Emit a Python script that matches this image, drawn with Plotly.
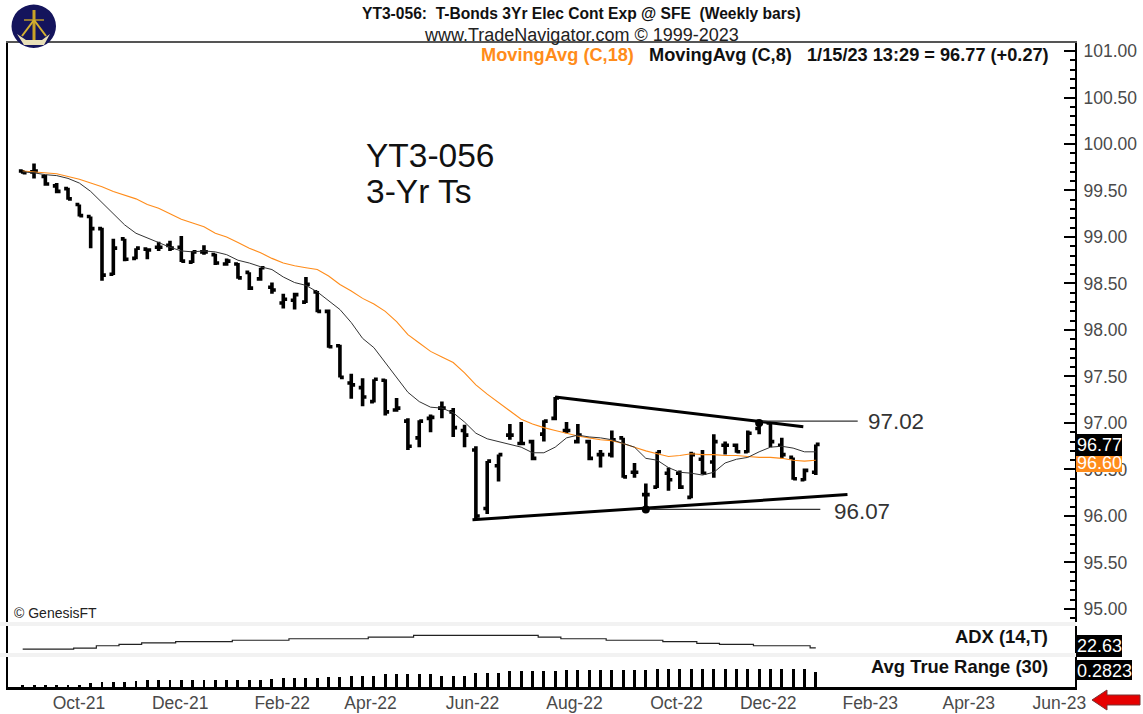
import plotly.graph_objects as go

# ---------- data ----------
bar_index = list(range(71))
highs = [99.72,99.79,99.67,99.58,99.53,99.35,99.22,99.10,98.98,98.98,98.88,98.88,98.95,98.96,99.01,98.85,98.91,98.82,98.77,98.72,
         98.62,98.67,98.51,98.39,98.40,98.57,98.42,98.22,97.84,97.53,97.48,97.47,97.47,97.27,97.05,97.03,97.09,97.23,97.16,96.98,
         96.75,96.59,96.66,96.99,97.01,96.82,97.03,97.28,97.01,96.99,96.82,96.71,96.92,96.84,96.57,96.35,96.69,96.52,96.49,96.69,
         96.71,96.88,96.80,96.78,96.92,97.03,97.00,96.84,96.63,96.51,96.77]
lows = [99.68,99.63,99.55,99.47,99.40,99.22,98.88,98.53,98.59,98.74,98.76,98.76,98.85,98.85,98.73,98.72,98.81,98.70,98.69,98.55,
        98.43,98.53,98.39,98.23,98.22,98.29,98.19,97.81,97.49,97.26,97.18,97.22,97.08,97.12,96.71,96.74,96.90,97.05,96.85,96.74,
        95.96,96.02,96.37,96.82,96.77,96.60,96.80,97.03,96.89,96.78,96.60,96.52,96.63,96.41,96.41,96.07,96.30,96.27,96.29,96.19,
        96.45,96.41,96.66,96.68,96.68,96.88,96.74,96.62,96.39,96.38,96.44]
opens = [99.71,99.70,99.65,99.55,99.52,99.35,99.22,99.09,98.60,98.98,98.77,98.87,98.89,98.91,98.89,98.73,98.84,98.81,98.71,98.71,
         98.62,98.55,98.46,98.29,98.32,98.30,98.41,98.20,97.83,97.43,97.38,97.23,97.46,97.14,97.02,96.84,97.05,97.16,97.12,96.92,
         96.71,96.08,96.54,96.87,96.78,96.80,96.88,97.05,96.92,96.80,96.80,96.66,96.66,96.84,96.47,96.23,96.31,96.46,96.46,96.20,
         96.61,96.58,96.76,96.76,96.69,96.94,97.00,96.76,96.63,96.39,96.47]
closes = [99.69,99.71,99.57,99.49,99.41,99.23,99.09,98.59,98.88,98.76,98.88,98.86,98.89,98.88,98.74,98.84,98.84,98.72,98.74,98.56,
          98.45,98.67,98.43,98.33,98.38,98.49,98.20,97.82,97.49,97.41,97.28,97.47,97.12,97.16,96.75,97.02,97.06,97.16,96.95,96.87,
          96.00,96.59,96.66,96.87,96.78,96.62,97.02,97.27,96.92,96.87,96.62,96.66,96.82,96.42,96.47,96.23,96.69,96.39,96.31,96.66,
          96.46,96.80,96.76,96.69,96.89,97.00,96.80,96.66,96.40,96.49,96.77]
ma18 = [99.71,99.70,99.69,99.68,99.65,99.62,99.58,99.54,99.49,99.45,99.41,99.35,99.31,99.25,99.19,99.15,99.11,99.04,99.00,98.94,
        98.88,98.83,98.77,98.72,98.69,98.67,98.65,98.58,98.49,98.42,98.34,98.28,98.20,98.09,97.95,97.86,97.77,97.71,97.65,97.54,
        97.41,97.31,97.22,97.12,97.04,96.99,96.95,96.92,96.89,96.86,96.84,96.82,96.81,96.78,96.74,96.70,96.67,96.64,96.65,96.67,
        96.66,96.66,96.65,96.65,96.64,96.63,96.63,96.62,96.60,96.59,96.60]
ma8 = [99.70,99.69,99.67,99.66,99.63,99.58,99.49,99.37,99.26,99.13,99.04,98.99,98.94,98.89,98.85,98.84,98.85,98.84,98.81,98.75,
       98.72,98.68,98.65,98.57,98.51,98.48,98.41,98.32,98.22,98.08,97.91,97.81,97.65,97.48,97.33,97.23,97.17,97.16,97.11,97.01,
       96.89,96.83,96.80,96.77,96.74,96.68,96.68,96.74,96.84,96.87,96.85,96.84,96.82,96.78,96.74,96.62,96.60,96.52,96.47,96.46,
       96.44,96.47,96.57,96.61,96.63,96.69,96.74,96.75,96.73,96.69,96.69]
adx = [22.11]*5 + [22.51]*2 + [23.43]*2 + [23.95]*2 + [24.51]*3 + [25.03]*5 + [25.55]*5 + [26.11]*7 + [26.75]*4 + [27.43]*11 \
      + [26.75]*2 + [26.11]*4 + [25.55]*5 + [25.03]*3 + [24.35]*2 + [23.95]*3 + [23.43]*5 + [22.63]
atr = [0.04]*6 + [0.07,0.09,0.10,0.10,0.11] + [0.13]*11 + [0.15]*1 + [0.17]*4 + [0.19]*2 + [0.21]*3 + [0.24]*5 + [0.21]*3 \
      + [0.27]*3 + [0.295]*5 + [0.325]*8 + [0.34]*14 + [0.2823]
assert all(len(a) == 71 for a in (highs, lows, opens, closes, ma18, ma8, adx, atr))

trend_top_x, trend_top_y = [47, 68.9], [97.28, 96.96]
trend_bot_x, trend_bot_y = [39.7, 72.8], [95.96, 96.23]
level_hi_x, level_hi_y = [65, 73.7], [97.02, 97.02]
level_lo_x, level_lo_y = [55, 70.4], [96.07, 96.07]
pivot_x, pivot_y = [55, 65], [96.07, 97.00]

x_tick_pos = [4.97, 13.9, 22.9, 30.7, 39.7, 48.7, 57.7, 65.8, 74.8, 83.5, 91.5]
x_tick_labels = ["Oct-21","Dec-21","Feb-22","Apr-22","Jun-22","Aug-22","Oct-22","Dec-22","Feb-23","Apr-23","Jun-23"]

W, H = 1143, 714
FONT = "Liberation Sans, Arial, sans-serif"
GREY = "#4a4a4a"
px = lambda v: v / W
py = lambda v: 1 - v / H
x_range = [-1.297, 92.88]

fig = go.Figure()
fig.add_trace(go.Ohlc(x=bar_index, open=opens, high=highs, low=lows, close=closes, tickwidth=0.34,
                      increasing=dict(line=dict(color="black", width=3.6)),
                      decreasing=dict(line=dict(color="black", width=3.6)), xaxis="x", yaxis="y"))
fig.add_trace(go.Scatter(x=bar_index, y=ma18, mode="lines", line=dict(color="#ff8c1a", width=1.1), xaxis="x", yaxis="y"))
fig.add_trace(go.Scatter(x=bar_index, y=ma8, mode="lines", line=dict(color="#333333", width=1), xaxis="x", yaxis="y"))
for xs, ys in ((trend_top_x, trend_top_y), (trend_bot_x, trend_bot_y)):
    fig.add_trace(go.Scatter(x=xs, y=ys, mode="lines", line=dict(color="black", width=3), xaxis="x", yaxis="y"))
for xs, ys in ((level_hi_x, level_hi_y), (level_lo_x, level_lo_y)):
    fig.add_trace(go.Scatter(x=xs, y=ys, mode="lines", line=dict(color="#333333", width=1.2), xaxis="x", yaxis="y"))
fig.add_trace(go.Scatter(x=pivot_x, y=pivot_y, mode="markers", marker=dict(color="black", size=8), xaxis="x", yaxis="y"))
fig.add_trace(go.Scatter(x=bar_index, y=adx, mode="lines", line=dict(color="#222222", width=1.2, shape="hvh"), xaxis="x2", yaxis="y2"))
fig.add_trace(go.Bar(x=bar_index, y=atr, marker=dict(color="black", line=dict(width=0)), width=0.26, xaxis="x3", yaxis="y3"))


def txt(x, y, s, size, color="black", bold=False, anchor="left", bg=None):
    fig.add_annotation(xref="paper", yref="paper", x=px(x), y=py(y), text=f"<b>{s}</b>" if bold else s,
                       showarrow=False, xanchor=anchor, yanchor="middle", bgcolor=bg,
                       font=dict(family=FONT, size=size, color=color), borderpad=0)


txt(581, 13, "YT3-056:\u00a0 T-Bonds 3Yr Elec Cont Exp @ SFE\u00a0 (Weekly bars)", 15.6, "#111", True, "center")
txt(581, 35, "www.TradeNavigator.com © 1999-2023", 18, "#222", False, "center")
txt(480, 55, "MovingAvg (C,18)", 18.2, "#ff8c1a", True)
txt(648, 55, "MovingAvg (C,8)", 18.2, "#111", True)
txt(806, 55, "1/15/23 13:29 = 96.77 (+0.27)", 18.2, "#111", True)
txt(365, 155, "YT3-056", 33.5, "#111")
txt(365, 192, "3-Yr Ts", 33.5, "#111")
txt(867, 421, "97.02", 22.4, "#333")
txt(833, 511, "96.07", 22.4, "#333")
txt(13, 613, "© GenesisFT", 14, "#222")
txt(1049, 636, "ADX (14,T)", 18.4, "#111", True, "right")
txt(1049, 666, "Avg True Range (30)", 18.4, "#111", True, "right")


def rect(x0, y0, x1, y1, fill, line=None):
    fig.add_shape(type="rect", xref="paper", yref="paper", x0=px(x0), x1=px(x1), y0=py(y0), y1=py(y1),
                  fillcolor=fill, line=dict(width=0 if line is None else 1, color=line), layer="above")


rect(0, 622, 1076, 626, "#f2f2f2")
rect(0, 653, 1076, 657, "#f2f2f2")
rect(1076, 456, 1122, 472, "#ff8c1a")
rect(1076, 434, 1122, 456, "black")
rect(1076, 635, 1122, 657, "black")
rect(1076, 660, 1132, 680, "black")
txt(1099, 463, "96.60", 18, "white", False, "center")
txt(1099, 445, "96.77", 18, "white", False, "center")
txt(1099, 646, "22.63", 18, "white", False, "center")
txt(1104, 671, "0.2823", 18, "white", False, "center")


def path(points, fill=None, line=None, lw=1):
    d = "M" + " L".join(f"{px(a):.5f},{py(b):.5f}" for a, b in points) + (" Z" if fill else "")
    fig.add_shape(type="path", xref="paper", yref="paper", path=d, fillcolor=fill, layer="above",
                  line=dict(color=line or "rgba(0,0,0,0)", width=lw))


# red arrow
path([(1092, 700), (1107, 690), (1107, 695), (1140, 695), (1140, 705), (1107, 705), (1107, 710)], "#e60000", "#7a3030", 1)

# logo
fig.add_shape(type="circle", xref="paper", yref="paper", x0=px(11.5), x1=px(56), y0=py(48), y1=py(4.5),
              fillcolor="#14145c", line=dict(width=0), layer="above")
path([(34, 10), (34, 40)], None, "#c9a227", 3)
path([(24, 20), (44, 20)], None, "#b8962a", 1.5)
path([(34, 20), (22, 36)], None, "#d4b030", 2)
path([(34, 20), (46, 36)], None, "#d4b030", 2)
path([(17, 34), (26, 40), (42, 40), (50, 34), (44, 45), (24, 45)], "#e8dfb8")

common_x = dict(range=x_range, domain=[px(8), px(1075)], showgrid=False, zeroline=False, fixedrange=True)
fig.update_layout(
    width=W, height=H, margin=dict(l=0, r=0, t=0, b=0, autoexpand=False), autosize=False,
    paper_bgcolor="white", plot_bgcolor="white", showlegend=False, bargap=0,
    font=dict(family=FONT),
    xaxis=dict(**common_x, anchor="y", side="top", showticklabels=False, ticks="", showline=True,
               linecolor="#555555", linewidth=2, rangeslider=dict(visible=False)),
    yaxis=dict(domain=[py(622), py(43)], range=[94.86, 101.086], side="right", anchor="x", showgrid=False, zeroline=False,
               tick0=95, dtick=0.5, tickformat=".2f", ticks="inside", ticklen=11, tickwidth=1.5, tickcolor="black",
               minor=dict(dtick=0.1, tick0=95, ticks="inside", ticklen=5, tickwidth=1.5, tickcolor="black", showgrid=False),
               showline=True, mirror=True, linecolor="black", linewidth=2, ticklabelstandoff=3,
               tickfont=dict(family=FONT, size=17.5, color=GREY)),
    xaxis2=dict(**common_x, anchor="y2", showticklabels=False, ticks="", showline=False),
    yaxis2=dict(domain=[py(653), py(626)], range=[20.63, 31.03], side="right", anchor="x2", showgrid=False, zeroline=False,
                showticklabels=False, ticks="", showline=True, mirror=True, linecolor="black", linewidth=2),
    xaxis3=dict(**common_x, anchor="y3", showline=True, linecolor="black", linewidth=3, ticks="",
                tickmode="array", tickvals=x_tick_pos, ticktext=x_tick_labels, ticklabelstandoff=-2,
                tickfont=dict(family=FONT, size=17.5, color=GREY)),
    yaxis3=dict(domain=[py(687), py(657)], range=[0, 0.564], side="right", anchor="x3", showgrid=False, zeroline=False,
                showticklabels=False, ticks="", showline=True, mirror=True, linecolor="black", linewidth=2),
)

fig.write_html("out.html", config=dict(displayModeBar=False),
               post_script="document.body.style.margin='0';document.documentElement.style.overflow='hidden';")
